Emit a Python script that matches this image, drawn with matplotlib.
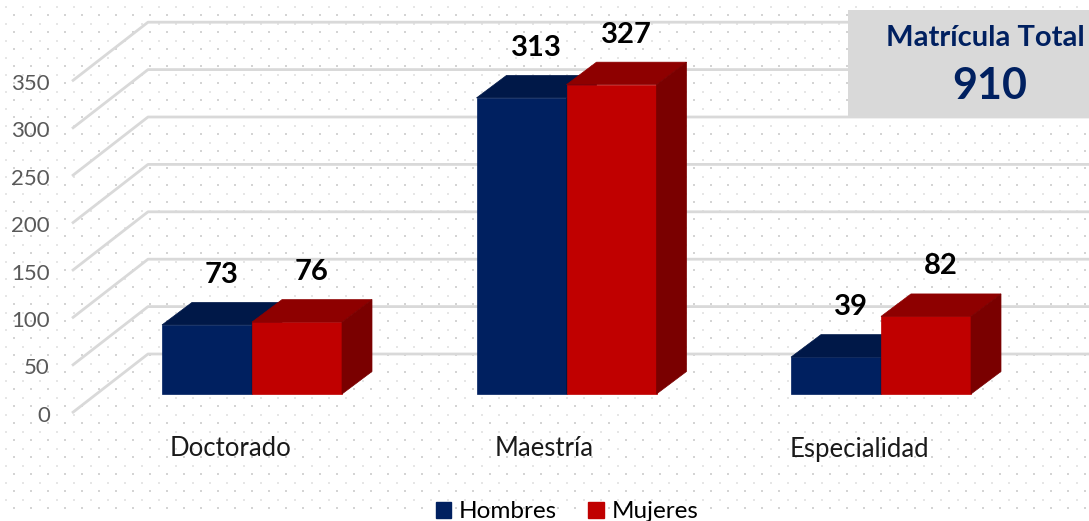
"""
Matrícula por programa y sexo: barras con aspecto 3D, solo matplotlib.
"""
import numpy as np
import matplotlib
matplotlib.use("Agg")
import matplotlib.pyplot as plt
from matplotlib.patches import Polygon, Patch, Rectangle

plt.rcParams["font.family"] = ["Lato", "DejaVu Sans"]

# ---- data ----
programas = ["Doctorado", "Maestría", "Especialidad"]
hombres = [73, 313, 39]
mujeres = [76, 327, 82]
ticks = [0, 50, 100, 150, 200, 250, 300, 350]
total_label = "Matrícula Total"
total = 910

# ---- style ----
NAVY, NAVY_TOP, NAVY_SIDE = "#002060", "#001848", "#00163F"
RED, RED_TOP, RED_SIDE = "#C00000", "#8E0000", "#7A0000"
GRID = "#D9D9D9"
W_PX, H_PX = 1089, 521

# pixel layout of the reference -> data units (x: category, y: value)
PX_PER_CAT, PX_PER_VAL = 314.5, 0.946
X0_PX, Y0_PX = 252, 394          # group 0 centre, bar base


def cx(px):
    return (px - X0_PX) / PX_PER_CAT


def vy(py):
    return (Y0_PX - py) / PX_PER_VAL


BAR_W = 90 / PX_PER_CAT
DX, DY = 30 / PX_PER_CAT, 22.5 / PX_PER_VAL
BACK_DY, FRONT_DY = vy(354), vy(413)    # wall offsets for value 0
BACK_X, FRONT_X = cx(148), cx(72)

fig = plt.figure(figsize=(W_PX / 100, H_PX / 100), dpi=100)

# dotted background
bg = fig.add_axes([0, 0, 1, 1], zorder=0)
bg.set_xlim(0, W_PX); bg.set_ylim(H_PX, 0); bg.axis("off")
gx, gy = np.meshgrid(np.arange(14, W_PX, 17), np.arange(-2, H_PX, 17))
bg.scatter(gx.ravel(), gy.ravel(), marker="s", s=1.6, color="#D4D4D4", lw=0)
bg.scatter(gx.ravel() - 8.5, gy.ravel() - 8.5, marker="s", s=1.0, color="#E6E6E6", lw=0)

ax = fig.add_axes([0, 0, 1, 1], zorder=1)
ax.set_xlim(cx(0), cx(W_PX)); ax.set_ylim(vy(H_PX), vy(0)); ax.axis("off")
ax.patch.set_alpha(0)

# perspective gridlines + tick labels
scale_back = 0.948 / PX_PER_VAL
for t in ticks:
    yb = BACK_DY + t * scale_back
    yf = FRONT_DY + t * scale_back
    ax.plot([FRONT_X, BACK_X, cx(W_PX + 10)], [yf, yb, yb], color=GRID, lw=2, zorder=1,
            solid_capstyle="butt")
    ax.text(cx(50), yf - 3, str(t), ha="right", va="center", fontsize=16, color="#595959")


def box3d(x, v, front, top, side, z):
    ax.add_patch(Polygon([(x, 0), (x + BAR_W, 0), (x + BAR_W, v), (x, v)],
                         closed=True, fc=front, ec=front, lw=0.5, zorder=z))
    ax.add_patch(Polygon([(x, v), (x + BAR_W, v), (x + BAR_W + DX, v + DY), (x + DX, v + DY)],
                         closed=True, fc=top, ec=top, lw=0.5, zorder=z))
    ax.add_patch(Polygon([(x + BAR_W, 0), (x + BAR_W + DX, DY), (x + BAR_W + DX, v + DY),
                          (x + BAR_W, v)], closed=True, fc=side, ec=side, lw=0.5, zorder=z))
    ax.text(x + BAR_W / 2 + DX / 2, v + DY + 29, str(v), ha="center", va="center",
            fontsize=21, fontweight="bold", color="black", zorder=z + 1)


for i, (h, m) in enumerate(zip(hombres, mujeres)):
    box3d(i - BAR_W, h, NAVY, NAVY_TOP, NAVY_SIDE, 2 + 2 * i)
    box3d(i, m, RED, RED_TOP, RED_SIDE, 3 + 2 * i)
    ax.text(i - 22 / PX_PER_CAT, vy(449), programas[i], ha="center", va="center",
            fontsize=18.5, color="#1A1A1A")

# total box
fig.patches.append(Rectangle((848 / W_PX, 1 - 118 / H_PX), 1 - 848 / W_PX, 108 / H_PX,
                             transform=fig.transFigure, fc="#D9D9D9", ec="none", zorder=5))
fig.text(985 / W_PX, 1 - 38 / H_PX, total_label, ha="center", va="center",
         fontsize=21, fontweight="bold", color=NAVY, zorder=6)
fig.text(990 / W_PX, 1 - 86 / H_PX, str(total), ha="center", va="center",
         fontsize=31, fontweight="bold", color=NAVY, zorder=6)

fig.legend(handles=[Patch(color=NAVY, label="Hombres"), Patch(color=RED, label="Mujeres")],
           loc="center", bbox_to_anchor=(567 / W_PX, 1 - 512 / H_PX), ncol=2, frameon=False,
           fontsize=17.5, handlelength=0.65, handleheight=0.65, handletextpad=0.3,
           columnspacing=1.3, borderpad=0)

fig.savefig("out.png", dpi=100)
